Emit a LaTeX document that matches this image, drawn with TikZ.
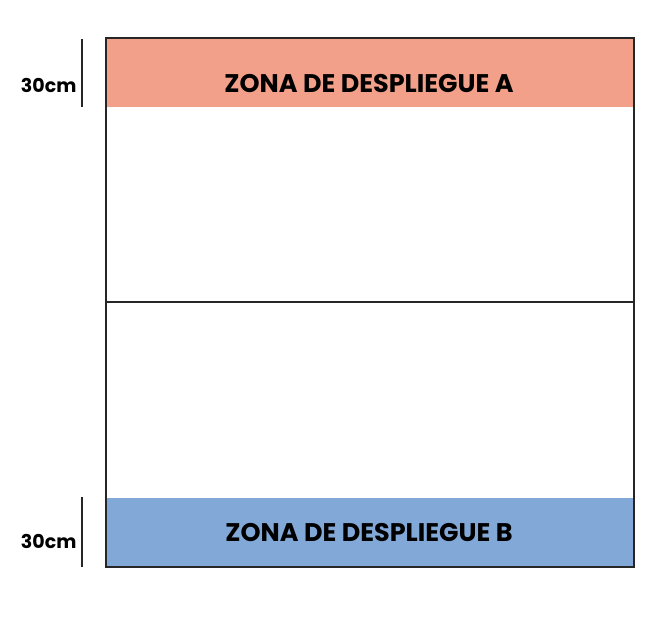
\documentclass[tikz,border=0pt]{standalone}
\usepackage{fontspec}
\setmainfont{Poppins}
\definecolor{zonared}{RGB}{243,160,138}
\definecolor{zoneblue}{RGB}{130,168,216}
\begin{document}
\begin{tikzpicture}[x=1pt,y=-1pt,
  frame/.style={draw=black!85, line width=1.8pt},
  ztext/.style={font=\fontsize{25.5}{28}\selectfont\bfseries, text=black},
  mtext/.style={font=\fontsize{19}{22}\selectfont\bfseries, text=black, anchor=east},
  marker/.style={draw=black!85, line width=1.6pt}]
\useasboundingbox (0,0) rectangle (664,640);
\fill[zonared] (106,38) rectangle (634,107);
\fill[zoneblue] (106,498) rectangle (634,567);
\draw[frame] (106,38) rectangle (634,567);
\draw[frame] (106,302) -- (634,302);
\node[ztext] (za) at (369,84) {ZONA DE DESPLIEGUE A};
\node[ztext] (zb) at (369,533) {ZONA DE DESPLIEGUE B};
\coordinate (m1a) at (82,39);
\coordinate (m1b) at (82,107);
\coordinate (m2a) at (82,497);
\coordinate (m2b) at (82,567);
\draw[marker] (m1a) -- (m1b);
\draw[marker] (m2a) -- (m2b);
\node[mtext] (la) at (80,85) {30cm};
\node[mtext] (lb) at (80,541) {30cm};
\end{tikzpicture}
\end{document}
